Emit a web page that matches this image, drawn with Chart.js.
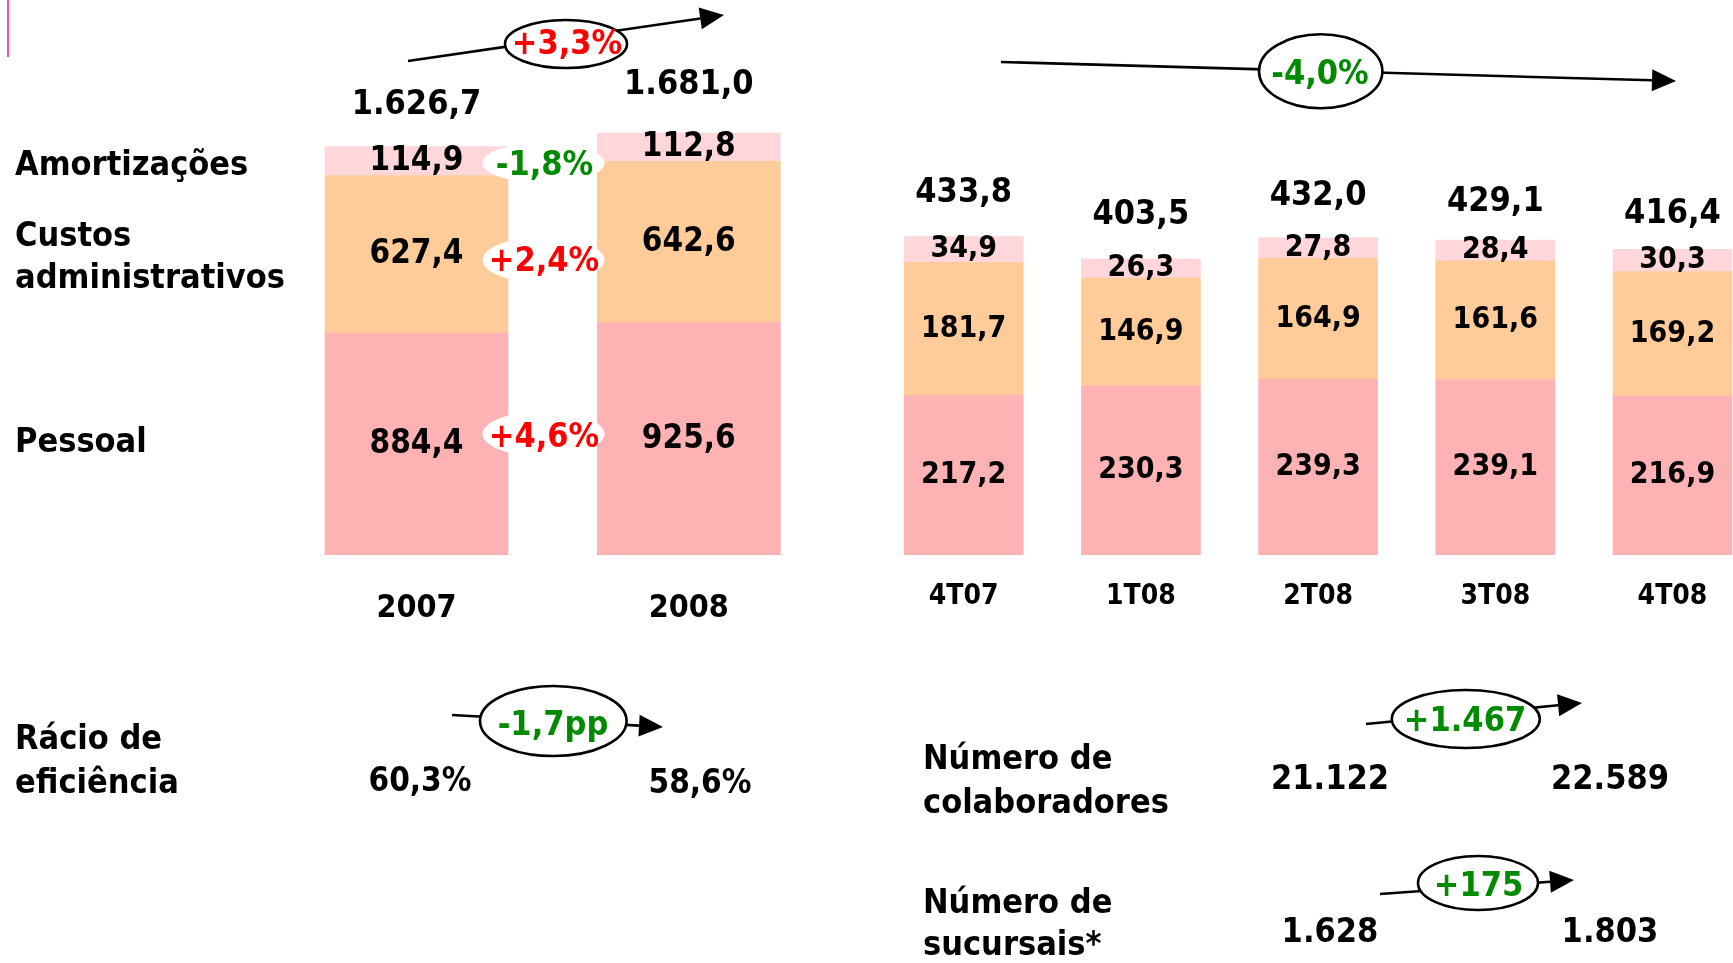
<!DOCTYPE html>
<html lang="pt">
<head>
<meta charset="utf-8">
<title>Custos operativos</title>
<script src="https://cdn.jsdelivr.net/npm/chart.js@4.4.1/dist/chart.umd.min.js"></script>
<style>
  html, body { margin: 0; padding: 0; background: #fff; }
  body {
    position: relative; width: 1733px; height: 963px; overflow: hidden;
    font-family: "DejaVu Sans Condensed", "DejaVu Sans", sans-serif; font-weight: bold; color: #000;
  }
  .box { position: absolute; top: 0; height: 700px; }
  #annualBox { left: 0; width: 900px; }
  #quarterBox { left: 800px; width: 1000px; }
  #shapes { position: absolute; left: 0; top: 0; }
  .lbl { position: absolute; white-space: nowrap; }
  .num { position: absolute; white-space: nowrap; transform: translate(-50%, -50%); }
  .red { color: #ff0000; }
  .green { color: #008a00; }
  #mark { position: absolute; left: 7px; top: 0; width: 2px; height: 57px; background: #ff4f96; }
</style>
</head>
<body>

<div id="mark"></div>
<div class="box" id="annualBox"><canvas id="annual"></canvas></div>
<div class="box" id="quarterBox"><canvas id="quarter"></canvas></div>
<svg id="shapes" width="1733" height="963"></svg>
<div id="texts"></div>

<script>
// ---------- data ----------
var years = ['2007', '2008'];
var pessoalAno = [884.4, 925.6];
var custosAno = [627.4, 642.6];
var amortAno = [114.9, 112.8];

var quarters = ['4T07', '1T08', '2T08', '3T08', '4T08'];
var pessoalTri = [217.2, 230.3, 239.3, 239.1, 216.9];
var custosTri = [181.7, 146.9, 164.9, 161.6, 169.2];
var amortTri = [34.9, 26.3, 27.8, 28.4, 30.3];

// variations shown in the badges (amortizações, custos, pessoal)
var varAno = ['-1,8%', '+2,4%', '+4,6%'];
var varTotalAno = '+3,3%';
var varTotalTri = '-4,0%';

var eficiencia = [60.3, 58.6];
var colaboradores = [21122, 22589];
var sucursais = [1628, 1803];

// ---------- colours ----------
var PESSOAL = '#ffb2b4';
var CUSTOS = '#ffcc99';
var AMORT = '#ffd6d9';
var FONT = '"DejaVu Sans Condensed", "DejaVu Sans", sans-serif';

// 1234.5 -> "1.234,5"
function fmt(v, dec) {
  var s = Math.abs(v).toFixed(dec);
  var parts = s.split('.');
  var ip = parts[0].replace(/\B(?=(\d{3})+(?!\d))/g, '.');
  return (v < 0 ? '-' : '') + ip + (parts[1] ? ',' + parts[1] : '');
}

// values inside the bars and totals above them
var barLabels = {
  id: 'barLabels',
  afterDatasetsDraw: function(chart, args, opts) {
    var ctx = chart.ctx;
    ctx.save();
    ctx.fillStyle = '#000';
    ctx.textAlign = 'center';
    ctx.textBaseline = 'alphabetic';
    ctx.font = 'bold ' + opts.inner + 'px ' + FONT;
    var n = chart.data.datasets.length;
    chart.data.datasets.forEach(function(ds, i) {
      chart.getDatasetMeta(i).data.forEach(function(bar, j) {
        var y = (bar.y + bar.base) / 2 - 3;
        ctx.fillText(fmt(ds.data[j], 1), bar.x, y + opts.inner * 0.364);
      });
    });
    // totals, a little above each stack
    ctx.font = 'bold ' + opts.total + 'px ' + FONT;
    chart.getDatasetMeta(n - 1).data.forEach(function(bar, j) {
      var sum = 0;
      chart.data.datasets.forEach(function(ds) { sum += ds.data[j]; });
      ctx.fillText(fmt(Math.round(sum * 10) / 10, 1), bar.x, bar.y - opts.gaps[j] + opts.total * 0.364);
    });
    ctx.restore();
  }
};

function makeChart(id, labels, p, c, a, o) {
  return new Chart(document.getElementById(id), {
    type: 'bar',
    data: {
      labels: labels,
      datasets: [
        { label: 'Pessoal', data: p, backgroundColor: PESSOAL },
        { label: 'Custos administrativos', data: c, backgroundColor: CUSTOS },
        { label: 'Amortizações', data: a, backgroundColor: AMORT }
      ]
    },
    options: {
      responsive: true,
      maintainAspectRatio: false,
      animation: false,
      layout: { padding: o.padding },
      datasets: { bar: { barThickness: o.thick, borderWidth: 0 } },
      plugins: {
        legend: { display: false },
        tooltip: { enabled: false },
        barLabels: { inner: o.inner, total: o.total, gaps: o.gaps }
      },
      scales: {
        x: {
          stacked: true,
          grid: { display: false, drawTicks: false },
          border: { display: false },
          ticks: { color: '#000', padding: o.tickPad, font: { family: FONT, size: o.tickSize, weight: 'bold' } },
          afterFit: function(scale) { scale.height = 80; }
        },
        y: { stacked: true, display: false, min: 0, max: o.max }
      }
    },
    plugins: [barLabels]
  });
}

makeChart('annual', years, pessoalAno, custosAno, amortAno, {
  padding: { left: 280.35, right: 75.05, top: 53, bottom: 65 },
  thick: 183, inner: 33, total: 34, tickSize: 32, tickPad: 34, max: 2000,
  gaps: [45, 51]
});

makeChart('quarter', quarters, pessoalTri, custosTri, amortTri, {
  padding: { left: 75.1, right: 38.9, top: 41.2, bottom: 65 },
  thick: 119, inner: 30, total: 34, tickSize: 28, tickPad: 25, max: 700,
  gaps: [47, 47, 45, 41, 39]
});

// ---------- annotations: arrows, ellipses, labels ----------
var svg = document.getElementById('shapes');
var NS = 'http://www.w3.org/2000/svg';
function el(tag, attrs) {
  var e = document.createElementNS(NS, tag);
  for (var k in attrs) e.setAttribute(k, attrs[k]);
  svg.appendChild(e);
  return e;
}
function arrow(x1, y1, x2, y2) {
  var dx = x2 - x1, dy = y2 - y1, len = Math.sqrt(dx * dx + dy * dy);
  var ux = dx / len, uy = dy / len;
  var bx = x2 - ux * 24, by = y2 - uy * 24;
  el('line', { x1: x1, y1: y1, x2: bx, y2: by, stroke: '#000', 'stroke-width': 2.6 });
  el('polygon', {
    points: x2 + ',' + y2 + ' ' + (bx - uy * 11) + ',' + (by + ux * 11) + ' ' + (bx + uy * 11) + ',' + (by - ux * 11),
    fill: '#000'
  });
}
function ring(cx, cy, rx, ry) {
  el('ellipse', { cx: cx, cy: cy, rx: rx, ry: ry, fill: '#fff', stroke: '#000', 'stroke-width': 2.6 });
}
function blob(cx, cy, rx, ry) {
  el('ellipse', { cx: cx, cy: cy, rx: rx, ry: ry, fill: '#fff' });
}

arrow(408, 61, 724, 15);
ring(566, 44, 61, 24);
arrow(1001, 62, 1676, 81);
ring(1320.7, 71.2, 61.7, 37);
arrow(452, 715, 663, 727);
ring(553.3, 721, 73.3, 35);
arrow(1366, 724, 1582, 703);
ring(1465.8, 719, 74, 29);
arrow(1380, 894, 1574, 880);
ring(1478, 883, 60, 27);

blob(543.5, 163, 61, 20);
blob(543.5, 260, 61, 23);
blob(543.5, 434, 61, 22.5);

var texts = document.getElementById('texts');
var LBL = 34;
function lbl(txt, x, baseline) {
  var d = document.createElement('div');
  d.className = 'lbl';
  d.textContent = txt;
  d.style.left = x + 'px';
  d.style.top = (baseline - 0.846 * LBL) + 'px';
  d.style.fontSize = LBL + 'px';
  d.style.lineHeight = LBL + 'px';
  texts.appendChild(d);
}
function num(txt, x, y, cls, size) {
  var d = document.createElement('div');
  d.className = 'num' + (cls ? ' ' + cls : '');
  d.textContent = txt;
  d.style.left = x + 'px';
  d.style.top = y + 'px';
  d.style.fontSize = size + 'px';
  d.style.lineHeight = size + 'px';
  texts.appendChild(d);
}

lbl('Amortizações', 15, 175);
lbl('Custos', 15, 246);
lbl('administrativos', 15, 288);
lbl('Pessoal', 15, 452);
lbl('Rácio de', 15, 749);
lbl('eficiência', 15, 793);
lbl('Número de', 923, 769);
lbl('colaboradores', 923, 813);
lbl('Número de', 923, 913);
lbl('sucursais*', 923, 955);

num(varTotalAno, 567, 42, 'red', 34);
num(varTotalTri, 1320, 72, 'green', 34);
num(varAno[0], 544.5, 163, 'green', 34);
num(varAno[1], 544, 259, 'red', 34);
num(varAno[2], 544, 435, 'red', 34);

num(fmt(eficiencia[0], 1) + '%', 420, 779, '', 33);
num(fmt(eficiencia[1], 1) + '%', 700, 781, '', 33);
num(fmt(eficiencia[1] - eficiencia[0], 1) + 'pp', 553, 723, 'green', 34);

num(fmt(colaboradores[0], 0), 1330, 777, '', 34);
num(fmt(colaboradores[1], 0), 1610, 777, '', 34);
num('+' + fmt(colaboradores[1] - colaboradores[0], 0), 1465, 718.5, 'green', 34);

num(fmt(sucursais[0], 0), 1330, 930, '', 34);
num(fmt(sucursais[1], 0), 1610, 930, '', 34);
num('+' + fmt(sucursais[1] - sucursais[0], 0), 1478.5, 884, 'green', 34);
</script>
</body>
</html>
